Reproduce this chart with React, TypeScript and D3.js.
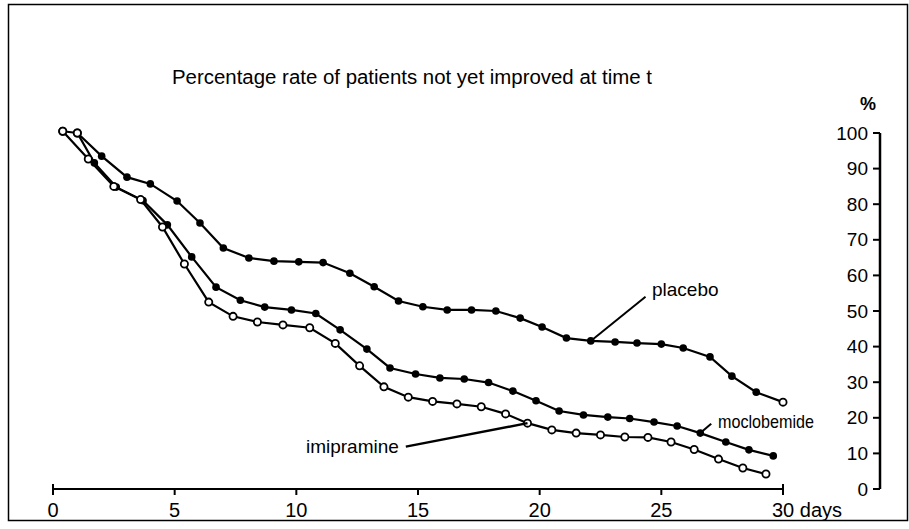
import React from "react";
import * as d3 from "d3";

const placebo: [number, number][] = [
  [0.4, 100.5], [1.0, 100], [2.0, 93.5], [3.04, 87.6], [4.0, 85.7], [5.1, 80.9],
  [6.04, 74.7], [7.0, 67.7], [8.05, 64.9], [9.08, 64.0], [10.1, 63.8], [11.1, 63.6],
  [12.2, 60.6], [13.2, 56.8], [14.2, 52.8], [15.2, 51.2], [16.2, 50.3], [17.2, 50.3],
  [18.2, 50.0], [19.2, 48.0], [20.1, 45.5], [21.1, 42.4], [22.1, 41.6], [23.1, 41.3],
  [24.0, 41.0], [25.0, 40.7], [25.9, 39.6], [27.0, 37.1], [27.9, 31.7], [28.9, 27.2],
  [30.0, 24.4],
];

const moclobemide: [number, number][] = [
  [1.0, 100], [1.7, 91.6], [2.6, 84.8], [3.7, 81.0], [4.7, 74.2], [5.7, 65.2],
  [6.7, 56.7], [7.7, 53.0], [8.7, 51.1], [9.8, 50.3], [10.8, 49.3], [11.8, 44.7],
  [12.9, 39.3], [13.85, 34.0], [14.9, 32.3], [15.9, 31.2], [16.9, 30.9], [17.9, 29.9],
  [18.9, 27.5], [19.85, 24.8], [20.8, 21.9], [21.8, 20.8], [22.8, 20.2], [23.7, 19.8],
  [24.7, 18.8], [25.65, 17.7], [26.6, 15.7], [27.65, 13.2], [28.6, 11.0], [29.6, 9.3],
];

const imipramine: [number, number][] = [
  [0.4, 100.5], [1.45, 92.7], [2.5, 85.0], [3.6, 81.3], [4.5, 73.6], [5.4, 63.2],
  [6.4, 52.5], [7.4, 48.5], [8.4, 46.9], [9.45, 46.1], [10.55, 45.3], [11.6, 40.9],
  [12.6, 34.6], [13.6, 28.7], [14.6, 25.8], [15.6, 24.6], [16.6, 23.9], [17.6, 23.1],
  [18.6, 21.1], [19.5, 18.5], [20.5, 16.6], [21.5, 15.7], [22.5, 15.2], [23.5, 14.6],
  [24.45, 14.5], [25.4, 13.2], [26.35, 11.1], [27.35, 8.4], [28.35, 5.9], [29.3, 4.2],
];

const xTicks = [0, 5, 10, 15, 20, 25, 30];
const yTicks = [0, 10, 20, 30, 40, 50, 60, 70, 80, 90, 100];
const title = "Percentage rate of patients not yet improved at time t";

// annotation anchors (data coordinates)
const placeboLabel = { text: "placebo", at: [22.1, 41.6] as [number, number], to: [24.35, 54.0] as [number, number] };
const moclobemideLabel = { text: "moclobemide", at: [26.6, 15.7] as [number, number], to: [27.05, 18.3] as [number, number] };
const imipramineLabel = { text: "imipramine", at: [19.5, 18.5] as [number, number], to: [14.5, 11.9] as [number, number] };

const FONT = "'Liberation Sans', Arial, sans-serif";

export default function App() {
  const W = 909, H = 529;
  const x = d3.scaleLinear().domain([0, 30]).range([53, 783]);
  const y = d3.scaleLinear().domain([0, 100]).range([489, 133]);
  const line = d3.line<[number, number]>().x((d) => x(d[0])).y((d) => y(d[1]));
  const axisX = 880;

  const series = [
    { name: "placebo", data: placebo },
    { name: "moclobemide", data: moclobemide },
    { name: "imipramine", data: imipramine },
  ];

  const isOpen = (name: string, i: number, n: number, d: [number, number]) => {
    if (name === "imipramine") return true;
    if (d[0] < 1.1) return true;
    if (name === "placebo" && i === n - 1) return true;
    return false;
  };

  return (
    <svg width={W} height={H} style={{ position: "absolute", left: 0, top: 0, background: "#fff" }}>
      <rect x={8.5} y={4.5} width={899} height={516} fill="none" stroke="#000" strokeWidth={1.5} />
      <text x={172} y={84} fontFamily={FONT} fontSize={19.5} fill="#000" textLength={480} lengthAdjust="spacingAndGlyphs">{title}</text>
      <text x={868} y={110} fontFamily={FONT} fontSize={18} fontWeight="bold" fill="#000" textAnchor="middle">%</text>

      {/* x axis */}
      <line x1={x(0)} x2={x(30)} y1={y(0)} y2={y(0)} stroke="#000" strokeWidth={2} />
      {xTicks.map((t) => (
        <g key={"xt" + t}>
          <line x1={x(t)} x2={x(t)} y1={y(0) - (t === 0 || t === 30 ? 5 : 0)} y2={y(0) + 6} stroke="#000" strokeWidth={2} />
          {t === 30 ? (
            <text x={x(t) - 11} y={y(0) + 28} fontFamily={FONT} fontSize={20} fill="#000">30 days</text>
          ) : (
            <text x={x(t)} y={y(0) + 28} fontFamily={FONT} fontSize={20} fill="#000" textAnchor="middle">{t}</text>
          )}
        </g>
      ))}

      {/* y axis */}
      <line x1={axisX} x2={axisX} y1={y(100)} y2={y(0)} stroke="#000" strokeWidth={2.5} />
      {yTicks.map((t) => (
        <g key={"yt" + t}>
          <line x1={axisX - 7} x2={axisX} y1={y(t)} y2={y(t)} stroke="#000" strokeWidth={2} />
          <text x={868} y={y(t) + 6.5} fontFamily={FONT} fontSize={19} fill="#000" textAnchor="end">{t}</text>
        </g>
      ))}

      {/* series */}
      {series.map((s) => (
        <g key={s.name}>
          <path d={line(s.data) || ""} fill="none" stroke="#000" strokeWidth={2.2} />
          {s.data.map((d, i) => {
            const open = isOpen(s.name, i, s.data.length, d);
            return (
              <circle key={i} cx={x(d[0])} cy={y(d[1])} r={open ? 3.6 : 3.8}
                fill={open ? "#fff" : "#000"} stroke="#000" strokeWidth={open ? 1.8 : 0} />
            );
          })}
        </g>
      ))}

      {/* annotations */}
      <line x1={x(placeboLabel.at[0])} y1={y(placeboLabel.at[1])} x2={x(placeboLabel.to[0])} y2={y(placeboLabel.to[1])} stroke="#000" strokeWidth={2} />
      <text x={652} y={296} fontFamily={FONT} fontSize={19} fill="#000">{placeboLabel.text}</text>

      <line x1={x(moclobemideLabel.at[0])} y1={y(moclobemideLabel.at[1])} x2={x(moclobemideLabel.to[0])} y2={y(moclobemideLabel.to[1])} stroke="#000" strokeWidth={2} />
      <text x={718} y={428} fontFamily={FONT} fontSize={19} fill="#000" textLength={96} lengthAdjust="spacingAndGlyphs">{moclobemideLabel.text}</text>

      <line x1={x(imipramineLabel.at[0])} y1={y(imipramineLabel.at[1])} x2={x(imipramineLabel.to[0])} y2={y(imipramineLabel.to[1])} stroke="#000" strokeWidth={2.5} />
      <text x={x(imipramineLabel.to[0]) - 7} y={y(imipramineLabel.to[1]) + 6} fontFamily={FONT} fontSize={19} fill="#000" textAnchor="end">{imipramineLabel.text}</text>
    </svg>
  );
}
